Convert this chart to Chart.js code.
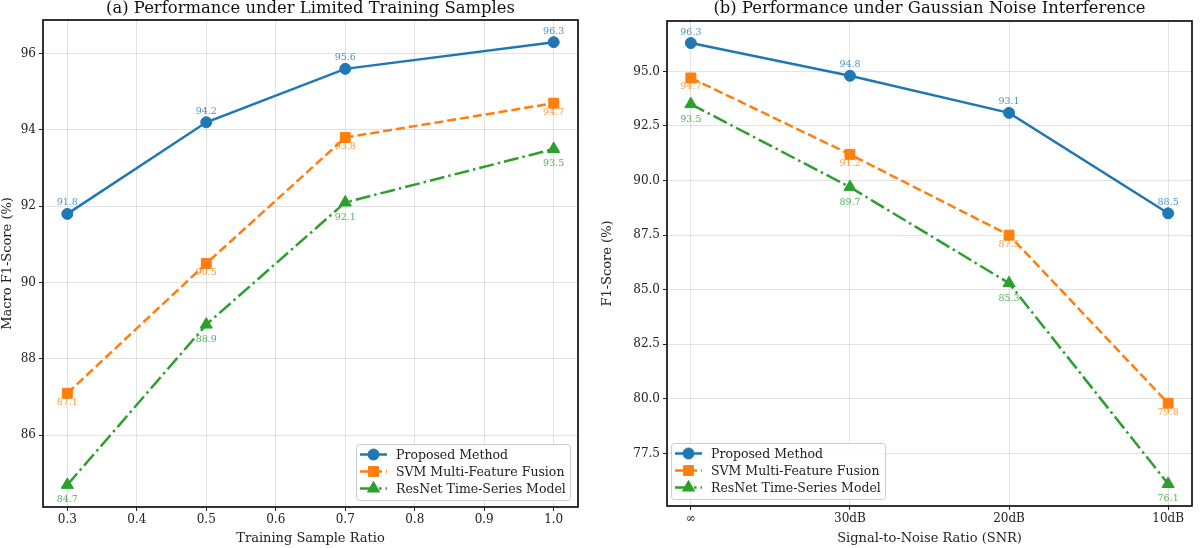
<!DOCTYPE html>
<html><head><meta charset="utf-8">
<script src="https://cdn.jsdelivr.net/npm/chart.js@4.4.1/dist/chart.umd.min.js"></script>
<style>
html,body{margin:0;padding:0;background:#fff;}
#wrap{position:relative;width:1200px;height:548px;}
.box{position:absolute;top:0;width:600px;height:548px;}
</style></head>
<body><div id="wrap">
<div class="box" style="left:0"><canvas id="c1"></canvas></div>
<div class="box" style="left:600px"><canvas id="c2"></canvas></div>
</div>
<script>
// ---- data ----
const seriesNames = ['Proposed Method', 'SVM Multi-Feature Fusion', 'ResNet Time-Series Model'];
const sampleRatios = [0.3, 0.5, 0.7, 1.0];
const ratioProposed = [91.8, 94.2, 95.6, 96.3];
const ratioSVM = [87.1, 90.5, 93.8, 94.7];
const ratioResNet = [84.7, 88.9, 92.1, 93.5];
const snrLabels = ['∞', '30dB', '20dB', '10dB'];
const snrProposed = [96.3, 94.8, 93.1, 88.5];
const snrSVM = [94.7, 91.2, 87.5, 79.8];
const snrResNet = [93.5, 89.7, 85.3, 76.1];
const ratioTicks = [0.3, 0.4, 0.5, 0.6, 0.7, 0.8, 0.9, 1.0];
const ratioYTicks = [86, 88, 90, 92, 94, 96];
const snrYTicks = [77.5, 80.0, 82.5, 85.0, 87.5, 90.0, 92.5, 95.0];

const FONT = "'DejaVu Serif', serif";
const colors = ['#1f77b4', '#ff7f0e', '#2ca02c'];
const labelColors = ['rgba(31,119,180,0.8)', 'rgba(255,127,14,0.8)', 'rgba(44,160,44,0.8)'];
const dashes = [[], [9, 4], [15, 4, 2.5, 4]];
const shapes = ['circle', 'rect', 'triangle'];
const radii = [5.5, 7, 7];
const labelOffsets = [-11, 9, 15];

function span(arrs, m) {
  const all = [].concat(...arrs);
  const lo = Math.min(...all), hi = Math.max(...all);
  const pad = (hi - lo) * m;
  return [lo - pad, hi + pad];
}

const framePlugin = {
  id: 'frameAndLabels',
  afterDatasetsDraw(chart, args, opts) {
    const ctx = chart.ctx;
    const a = chart.chartArea;
    // title centred over the axes
    ctx.save();
    ctx.font = "16.4px " + FONT;
    ctx.fillStyle = '#111';
    ctx.textAlign = 'center';
    ctx.textBaseline = 'middle';
    ctx.fillText(opts.title, (a.left + a.right) / 2, 9);
    ctx.restore();
    // value labels
    ctx.save();
    ctx.font = "9.5px " + FONT;
    ctx.textAlign = 'center';
    ctx.textBaseline = 'middle';
    chart.data.datasets.forEach((ds, i) => {
      const meta = chart.getDatasetMeta(i);
      meta.data.forEach((pt, j) => {
        ctx.fillStyle = labelColors[i];
        ctx.fillText(ds.data[j].y.toFixed(1), pt.x, pt.y + labelOffsets[i]);
      });
    });
    ctx.restore();
    // frame
    ctx.save();
    ctx.strokeStyle = '#000';
    ctx.lineWidth = 1.6;
    ctx.strokeRect(a.left, a.top, a.right - a.left, a.bottom - a.top);
    ctx.restore();
    // legend
    const lw = 214, lh = 56;
    const lx = opts.side === 'right' ? a.right - lw - 8 : a.left + 4;
    const ly = a.bottom - lh - 7;
    ctx.save();
    ctx.fillStyle = 'rgba(255,255,255,0.85)';
    ctx.strokeStyle = '#cccccc';
    ctx.lineWidth = 1;
    ctx.beginPath();
    ctx.roundRect(lx + 0.5, ly + 0.5, lw, lh, 3);
    ctx.fill(); ctx.stroke();
    chart.data.datasets.forEach((ds, i) => {
      const y = ly + 10.5 + i * 17;
      const x0 = lx + 4, x1 = lx + 31;
      ctx.strokeStyle = ds.borderColor;
      ctx.lineWidth = ds.borderWidth;
      ctx.setLineDash(ds.borderDash || []);
      ctx.beginPath(); ctx.moveTo(x0, y); ctx.lineTo(x1, y); ctx.stroke();
      ctx.setLineDash([]);
      ctx.fillStyle = ds.backgroundColor;
      ctx.strokeStyle = ds.borderColor;
      ctx.lineWidth = 1;
      Chart.helpers.drawPoint(ctx, {pointStyle: ds.pointStyle, radius: ds.pointRadius, borderWidth: 1}, (x0 + x1) / 2, y);
      ctx.fillStyle = '#222';
      ctx.font = "12.5px " + FONT;
      ctx.textAlign = 'left';
      ctx.textBaseline = 'middle';
      ctx.fillText(ds.label, lx + 40, y + 1);
    });
    ctx.restore();
  }
};

function makeDatasets(xs, arrs) {
  return arrs.map((vals, i) => ({
    label: seriesNames[i],
    data: vals.map((v, j) => ({x: xs[j], y: v})),
    borderColor: colors[i],
    backgroundColor: colors[i],
    pointBackgroundColor: colors[i],
    pointBorderColor: colors[i],
    borderWidth: 2.5,
    borderDash: dashes[i],
    pointStyle: shapes[i],
    pointRadius: radii[i],
    pointBorderWidth: 1,
    tension: 0,
    fill: false
  }));
}

function makeChart(id, cfg) {
  const [ymin, ymax] = span(cfg.series, 0.05);
  const xmin = cfg.xs[0] - (cfg.xs[cfg.xs.length - 1] - cfg.xs[0]) * 0.05;
  const xmax = cfg.xs[cfg.xs.length - 1] + (cfg.xs[cfg.xs.length - 1] - cfg.xs[0]) * 0.05;
  const gridColor = 'rgba(176,176,176,0.35)';
  return new Chart(document.getElementById(id), {
    type: 'line',
    data: {datasets: makeDatasets(cfg.xs, cfg.series)},
    options: {
      responsive: false,
      animation: false,
      devicePixelRatio: 1,
      layout: {padding: {left: cfg.padLeft, right: cfg.padRight, top: cfg.padTop, bottom: 0}},
      plugins: {
        legend: {display: false},
        tooltip: {enabled: false},
        title: {display: false},
        frameAndLabels: {side: cfg.legendSide, title: cfg.title}
      },
      scales: {
        x: {
          type: 'linear', min: xmin, max: xmax,
          afterBuildTicks: s => { s.ticks = cfg.xTicks.map(v => ({value: v})); },
          afterFit: s => { s.height = cfg.xHeight; },
          ticks: {color: '#222', font: {family: FONT, size: 12}, padding: 2, maxRotation: 0, autoSkip: false,
            callback: cfg.xFmt},
          grid: {color: gridColor, lineWidth: 1, tickColor: '#222', tickLength: 4, drawTicks: true},
          border: {display: false},
          title: {display: true, text: cfg.xTitle, color: '#222', font: {family: FONT, size: 13}, padding: {top: 0, bottom: 2}}
        },
        y: {
          type: 'linear', min: ymin, max: ymax,
          afterBuildTicks: s => { s.ticks = cfg.yTicks.map(v => ({value: v})); },
          afterFit: s => { s.width = cfg.yWidth; },
          ticks: {color: '#222', font: {family: FONT, size: 12}, padding: 3, autoSkip: false,
            callback: cfg.yFmt},
          grid: {color: gridColor, lineWidth: 1, tickColor: '#222', tickLength: 4, drawTicks: true},
          border: {display: false},
          title: {display: true, text: cfg.yTitle, color: '#222', font: {family: FONT, size: 13}, padding: {top: 0, bottom: 2}}
        }
      }
    },
    plugins: [framePlugin]
  });
}

function sizeCanvas(id) {
  const c = document.getElementById(id);
  c.width = 600; c.height = 548; c.style.width = '600px'; c.style.height = '548px';
}
sizeCanvas('c1'); sizeCanvas('c2');

makeChart('c1', {
  xs: sampleRatios,
  series: [ratioProposed, ratioSVM, ratioResNet],
  xTicks: ratioTicks, yTicks: ratioYTicks,
  xFmt: v => v.toFixed(1), yFmt: v => String(Math.round(v)),
  title: '(a) Performance under Limited Training Samples',
  xTitle: 'Training Sample Ratio', yTitle: 'Macro F1-Score (%)',
  padLeft: 0, padRight: 22, padTop: 20, xHeight: 41, yWidth: 43,
  legendSide: 'right'
});

const snrIdx = snrLabels.map((_, i) => i);
makeChart('c2', {
  xs: snrIdx,
  series: [snrProposed, snrSVM, snrResNet],
  xTicks: snrIdx, yTicks: snrYTicks,
  xFmt: v => snrLabels[Math.round(v)], yFmt: v => v.toFixed(1),
  title: '(b) Performance under Gaussian Noise Interference',
  xTitle: 'Signal-to-Noise Ratio (SNR)', yTitle: 'F1-Score (%)',
  padLeft: 0, padRight: 3, padTop: 21, xHeight: 42, yWidth: 67,
  legendSide: 'left'
});
</script>
</body></html>
